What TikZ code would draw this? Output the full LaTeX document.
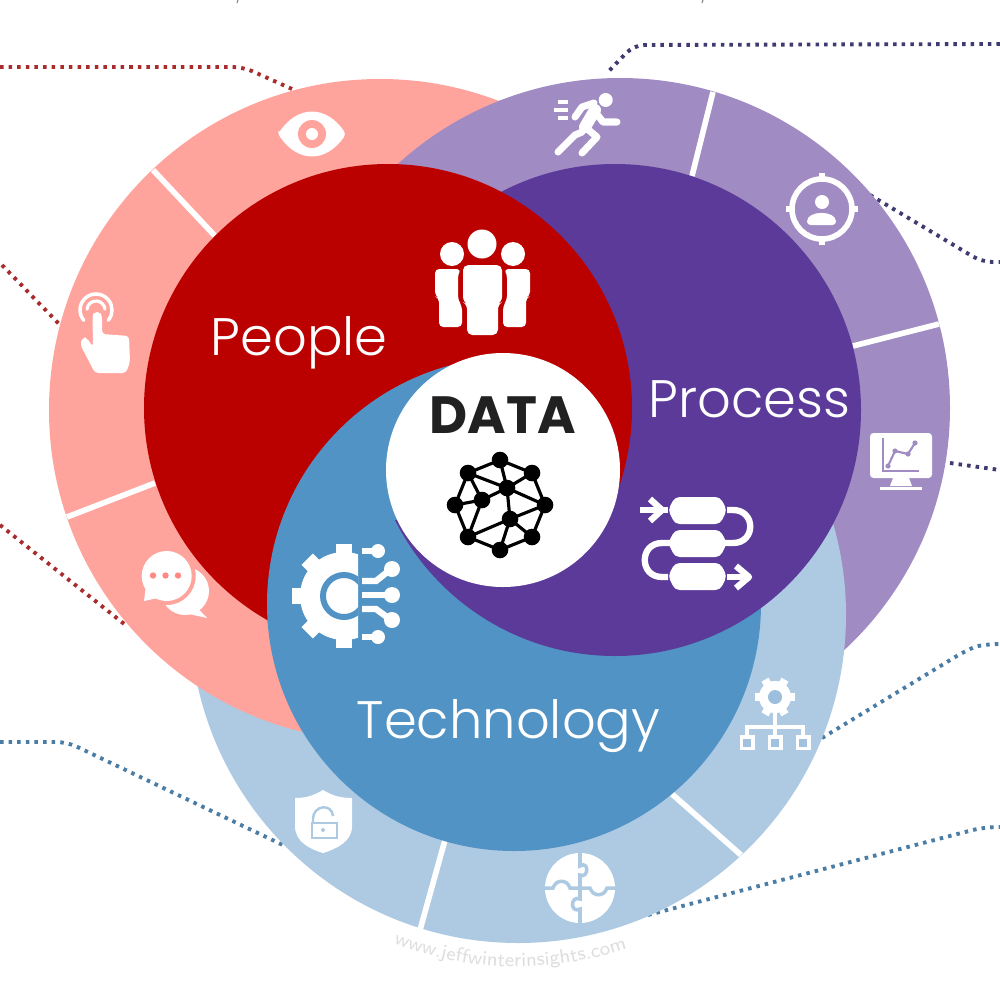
\documentclass[tikz,border=0pt]{standalone}
\usepackage{fontspec}
\usetikzlibrary{calc,decorations.text}
\newfontfamily\poplight[UprightFont=* Light]{Poppins}
\newfontfamily\popbold[UprightFont=* Bold]{Poppins}
\definecolor{pinkring}{HTML}{FFA39D}
\definecolor{redcore}{HTML}{BB0000}
\definecolor{purplering}{HTML}{A08BC3}
\definecolor{purplecore}{HTML}{5C3A9A}
\definecolor{bluering}{HTML}{AECAE3}
\definecolor{bluecore}{HTML}{5193C5}
\definecolor{reddot}{HTML}{A92C2C}
\definecolor{purpledot}{HTML}{3F3A70}
\definecolor{bluedot}{HTML}{4A7DA6}
\tikzset{
  dotline/.style={line width=1.1pt,dash pattern=on 1pt off 1.45pt,rounded corners=3pt},
  divider/.style={white,line width=1.6pt},
  label/.style={white,anchor=base west,inner sep=0pt,font=\poplight\fontsize{15}{18}\selectfont},
  ico/.style={fill=white,draw=none},
  icoline/.style={white,line width=2pt,line cap=round,line join=round},
  netedge/.style={black,line width=0.9pt},
  netnode/.style={fill=black,draw=none},
}
\begin{document}
\begin{tikzpicture}[x=0.01cm,y=-0.01cm]
\useasboundingbox (0,0) rectangle (1000,1000);
\fill[white] (0,0) rectangle (1000,1000);

% tiny marks at the top edge
\draw[gray,line width=0.3pt] (238,0) -- (237,3);
\draw[gray,line width=0.3pt] (703,0) -- (702,3);

% dotted leaders
\coordinate (r1a) at (0,67); \coordinate (r1b) at (243,67); \coordinate (r1c) at (292,89);
\coordinate (r2a) at (2,265); \coordinate (r2b) at (60,325);
\coordinate (r3a) at (0,525); \coordinate (r3b) at (128,627);
\coordinate (p1a) at (1000,44); \coordinate (p1b) at (634,45); \coordinate (p1c) at (607,73);
\coordinate (p2a) at (870,195); \coordinate (p2b) at (982,262); \coordinate (p2c) at (1000,262);
\coordinate (p3a) at (950,463); \coordinate (p3b) at (1000,470);
\coordinate (b1a) at (0,742); \coordinate (b1b) at (67,742); \coordinate (b1c) at (285,846);
\coordinate (b2a) at (822,738); \coordinate (b2b) at (965,651); \coordinate (b2c) at (1000,644);
\coordinate (b3a) at (648,915); \coordinate (b3b) at (965,832); \coordinate (b3c) at (1000,827);
\draw[dotline,reddot] (r1a) -- (r1b) -- (r1c);
\draw[dotline,reddot] (r2a) -- (r2b);
\draw[dotline,reddot] (r3a) -- (r3b);
\draw[dotline,purpledot] (p1a) -- (p1b) -- (p1c);
\draw[dotline,purpledot] (p2a) -- (p2b) -- (p2c);
\draw[dotline,purpledot] (p3a) -- (p3b);
\draw[dotline,bluedot] (b1a) -- (b1b) -- (b1c);
\draw[dotline,bluedot] (b2a) -- (b2b) .. controls (977,646) and (988,644) .. (b2c);
\draw[dotline,bluedot] (b3a) -- (b3b) .. controls (977,829) and (988,827) .. (b3c);

% outer rings
\fill[purplering] (620,408) circle (330);
\fill[bluering] (518,615) circle (328);
\fill[pinkring] (380,410) circle (331);
\begin{scope}
  \clip (380,410) circle (333);
  \fill[purplering] (620,408) circle (330);
\end{scope}
\draw[divider] (153,170) -- (215,236);
\draw[divider] (67,517) -- (155,483);
\draw[divider] (713,92) -- (692,176);
\draw[divider] (939,324) -- (853,346);
\draw[divider] (741,855) -- (672,794);
\draw[divider] (445,840) -- (420,930);

% core circles: red over purple, blue over red, purple over blue
\fill[bluecore] (514,604) circle (247);
\fill[purplecore] (615,410) circle (246);
\fill[redcore] (388,408) circle (244);
\begin{scope}
  \clip (388,408) circle (245.5);
  \clip (0,0) rectangle (503,1000);
  \fill[bluecore] (514,604) circle (247);
\end{scope}
\begin{scope}
  \clip (388,408) circle (247);
  \clip (514,604) circle (247);
  \clip (0,520) -- (503,520) -- (503,497) -- (1000,497) -- (1000,1000) -- (0,1000) -- cycle;
  \fill[purplecore] (615,410) circle (246);
\end{scope}
\fill[white] (503,470) circle (117);

% labels
\node[label] (people) at (210,355) {People};
\node[label] (process) at (648,417) {Process};
\node[label] (tech) at (356,738) {Technology};
\node[anchor=base west,inner sep=0pt,text=black!87,font=\popbold\fontsize{14.9}{18}\selectfont] (data) at (429,433) {DATA};

% network icon
\foreach \a/\b/\n in {500/460/A,468/473/B,532/473/C,455/505/D,545/505/E,468/537/F,532/537/G,500/550/H,507/488/I,482/500/J,510/519/K}
  \coordinate (\n) at (\a,\b);
\draw[netedge] (A)--(B)--(D)--(F)--(H)--(G)--(E)--(C)--(A);
\draw[netedge] (A)--(I) (B)--(I) (C)--(I) (I)--(J) (I)--(K) (I)--(E) (J)--(D) (J)--(B) (J)--(F) (K)--(E) (K)--(F) (K)--(H) (K)--(G);
\foreach \n in {A,B,C,D,E,F,G,H,I,J,K} \fill[netnode] (\n) circle (8.3);

% people icon
\fill[ico] (482,244) circle (14.5);
\fill[ico] (452,254) circle (12);
\fill[ico] (513,254) circle (12);
\fill[ico,rounded corners=1.5pt] (463,265) -- (502,265) -- (502,302) -- (498,304) -- (498,335) -- (467,335) -- (467,304) -- (463,302) -- cycle;
\fill[ico,rounded corners=1.2pt] (435,269) -- (461,269) -- (458,274) -- (458,300) -- (462,306) -- (462,327) -- (439,327) -- (439,298) -- (435,296) -- cycle;
\fill[ico,rounded corners=1.2pt] (530,269) -- (504,269) -- (507,274) -- (507,300) -- (503,306) -- (503,327) -- (526,327) -- (526,298) -- (530,296) -- cycle;

% eye icon
\fill[ico,rounded corners=1pt] (278,134) .. controls (298,105) and (326,105) .. (346,134) .. controls (326,163) and (298,163) .. cycle;
\fill[pinkring] (312,134) circle (14);
\fill[ico] (312,134) circle (6);

% tap icon
\draw[white,line width=1pt,line cap=round] ($(96,310)+(140:16)$) arc[start angle=140,end angle=400,radius=16];
\draw[white,line width=0.9pt,line cap=round] ($(96,310)+(185:9)$) arc[start angle=185,end angle=355,radius=9];
\fill[ico,rounded corners=1pt] (92.5,316) -- (94,312) -- (100,312) -- (102,316) -- (102,334) -- (129,336) -- (130,362) -- (126,373) -- (95,373) -- (80,344) -- (83,337) -- (87,338) -- (93,347) -- cycle;

% chat icon
\fill[ico] (185,591) circle (24);
\fill[ico] (190,600) -- (207,618) -- (180,612) -- cycle;
\fill[pinkring] (166.7,576) circle (29);
\fill[ico] (166.7,576) circle (25);
\fill[ico] (146,585) -- (144,601) -- (162,597) -- cycle;
\foreach \x in {153,165.5,178} \fill[pinkring!85!red] (\x,575.5) circle (3.2);

% gear + circuit icon
\begin{scope}
  \clip (280,530) rectangle (358,660);
  \fill[ico] (344,596) circle (44);
  \foreach \t in {90,135,180,225,270,45,315} {
    \fill[ico,rotate around={\t:(344,596)}] (344,596) ++(38,-8) rectangle ++(14,16);
  }
  \draw[bluecore,line width=1.7pt] (344,596) circle (21);
\end{scope}
\begin{scope}[white,line width=1.8pt]
  \draw (362,551) -- (378,551);
  \draw (362,581) -- (376,581) -- (391,569);
  \draw (362,595) -- (391,595);
  \draw (362,609) -- (376,609) -- (391,620);
  \draw (362,637) -- (378,637);
\end{scope}
\foreach \x/\y/\r in {378/551/7,392/569/8,392/595/8,392/620/8,378/637/7} \fill[ico] (\x,\y) circle (\r);

% runner icon
\fill[ico] (605.7,100) circle (7);
\begin{scope}[icoline]
  \draw[line width=1pt,line cap=butt] (558,102) -- (568,102) (554,110) -- (568,110) (558,118) -- (568,118);
  \draw[line width=3.4pt] (595,110) -- (585,127);
  \draw (594,103) -- (582,107) -- (575,117);
  \draw (596,113) -- (603,122) -- (617,122);
  \draw (585,127) -- (597,137) -- (582,153);
  \draw (582,132) -- (575,135) -- (558,152);
\end{scope}

% target icon
\draw[white,line width=1.6pt] (822,209) circle (30);
\foreach \x/\y/\u/\v in {822/173/822/182,822/245/822/236,786/209/795/209,858/209/849/209}
  \draw[white,line width=1.9pt] (\x,\y) -- (\u,\v);
\fill[ico] (822,202) circle (7);
\fill[ico,rounded corners=1pt] (807,225) .. controls (807,210) and (836,210) .. (836,225) -- cycle;

% monitor icon
\fill[ico,rounded corners=1pt] (870,433) rectangle (932,478);
\draw[purplering,line width=0.5pt] (883,438) -- (883,471) -- (919,471);
\draw[purplering,line width=0.6pt] (888,466) -- (895,451) -- (908,454) -- (915,443);
\foreach \x/\y in {888/466,895/451,908/454,915/443} \fill[purplering] (\x,\y) circle (2.6);
\fill[ico] (893,478) -- (909,478) -- (912,486) -- (890,486) -- cycle;
\draw[white,line width=0.8pt] (880,488.5) -- (922,488.5);

% flow icon
\foreach \y in {497,530,563}
  \fill[ico,rounded corners=1.3pt] (668,\y+13) -- (675,\y) -- (720,\y) -- (727,\y+13) -- (720,\y+27) -- (675,\y+27) -- cycle;
\begin{scope}[white,line width=1.8pt,line join=round]
  \draw (640,510) -- (668,510);
  \draw (650,499) -- (662,510) -- (650,521);
  \draw (727,510) -- (733,510) .. controls (756,510) and (756,543) .. (733,543) -- (667,543) -- (662,543) .. controls (639,543) and (639,577) .. (662,577) -- (668,577);
  \draw (727,577) -- (750,577);
  \draw (736,566) -- (749,577) -- (736,588);
\end{scope}

% gear hierarchy icon
\foreach \t in {30,90,150,210,270,330}
  \fill[ico,rotate around={\t:(775,697)}] (771,677) rectangle (779,683);
\fill[ico] (775,697) circle (16);
\fill[bluering!80!bluecore] (775,697) circle (7);
\begin{scope}[white,line width=0.9pt]
  \draw (775,713) -- (775,736);
  \draw (747,736) -- (747,727) -- (803,727) -- (803,736);
\end{scope}
\foreach \x in {747,775,803} {
  \fill[ico] (\x-7.5,735) rectangle (\x+7.5,750);
  \fill[bluering!85!bluecore] (\x-4,739) rectangle (\x+4,747);
}

% puzzle icon
\fill[ico] (580,888) circle (35);
\begin{scope}[bluering,line width=1pt]
  \draw (580,851) -- (580,866) .. controls (589,860) and (589,879) .. (580,875) -- (580,899) .. controls (570,895) and (570,914) .. (580,909) -- (580,925);
  \draw (543,888) -- (553,888) .. controls (556,879) and (567,879) .. (570,888) -- (590,888) .. controls (593,897) and (604,897) .. (607,888) -- (617,888);
\end{scope}

% shield icon
\fill[ico] (323,790) .. controls (313,796) and (305,798) .. (295,798) -- (295,826) .. controls (295,842) and (310,849) .. (323,853) .. controls (336,849) and (352,842) .. (352,826) -- (352,798) .. controls (341,798) and (333,796) .. cycle;
\begin{scope}[bluering,line width=0.7pt]
  \draw (312,823) rectangle (337,838);
  \draw (313,823) -- (313,819) .. controls (313,805) and (332,803) .. (333,816);
\end{scope}
\fill[bluering] (323,830) circle (2);

% watermark
\path[decorate,decoration={text along path,text align=center,
  text={|\fontsize{5.6}{7}\selectfont\sffamily\color{black!13}|www.jeffwinterinsights.com}}]
  (392,943) .. controls (469,973) and (551,974) .. (629,948);
\end{tikzpicture}
\end{document}
